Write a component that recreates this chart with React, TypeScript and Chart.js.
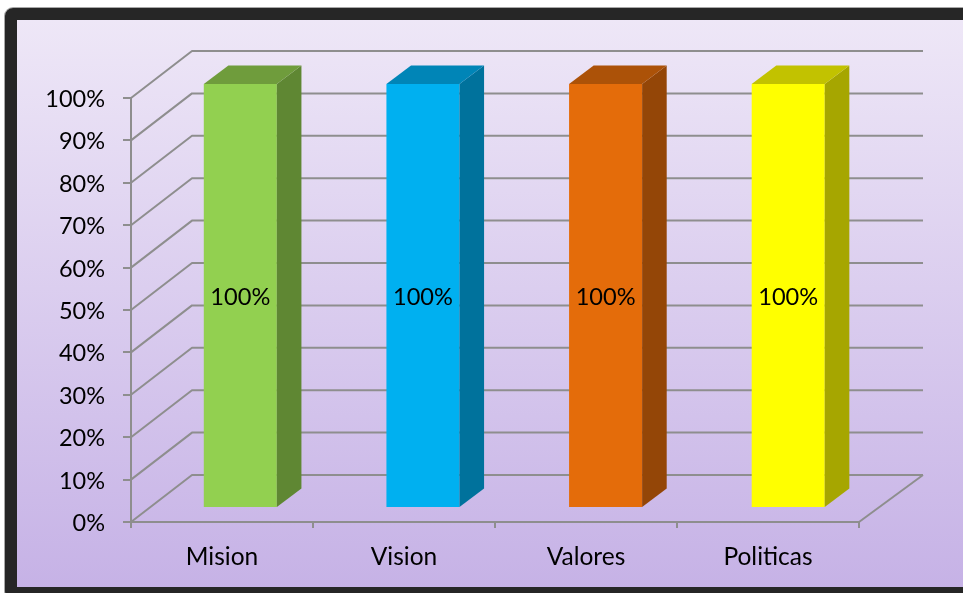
import React, { useEffect, useRef } from "react";
import { Chart, registerables } from "chart.js";

Chart.register(...registerables);

const categories = ["Mision", "Vision", "Valores", "Politicas"];
const values = [100, 100, 100, 100];
const frontColors = ["#92D050", "#00B0F0", "#E46C0A", "#FFFF00"];
const sideColors = ["#5F8733", "#00729C", "#944607", "#A6A600"];
const topColors = ["#6F9C3C", "#0085B7", "#AC5208", "#C2C200"];
const GRID = "#8E8E8E";
const FONT = "Lato";
const BACK_DX = 61;
const BACK_DY = -47;
const BAR_DX = 18;
const BAR_DY = -14;
const SIDE_DX = 24.5;
const SIDE_DY = -18.5;
const BAR_STRETCH = 1.0035;

const threeD = {
  id: "threeD",
  beforeDatasetsDraw(chart: any) {
    const { ctx, scales, chartArea } = chart;
    const y = scales.y;
    ctx.save();
    ctx.strokeStyle = GRID;
    ctx.lineWidth = 2;
    ctx.lineJoin = "round";
    for (const v of y.ticks.map((t: any) => t.value)) {
      const py = y.getPixelForValue(v);
      ctx.beginPath();
      ctx.moveTo(chartArea.left, py);
      ctx.lineTo(chartArea.left + BACK_DX, py + BACK_DY);
      ctx.lineTo(chartArea.right + BACK_DX + 3, py + BACK_DY);
      ctx.stroke();
    }
    const p0 = y.getPixelForValue(0);
    ctx.beginPath();
    ctx.moveTo(chartArea.right, p0);
    ctx.lineTo(chartArea.right + BACK_DX + 3, p0 + BACK_DY);
    ctx.stroke();
    ctx.restore();
    ctx.save();
    ctx.translate(BAR_DX + chartArea.left, BAR_DY);
    ctx.scale(BAR_STRETCH, 1);
    ctx.translate(-chartArea.left, 0);
  },
  afterDatasetsDraw(chart: any) {
    const { ctx } = chart;
    const meta = chart.getDatasetMeta(0);
    meta.data.forEach((bar: any, i: number) => {
      const { x, y, base, width } = bar.getProps(["x", "y", "base", "width"], true);
      const l = x - width / 2;
      const r = x + width / 2;
      ctx.fillStyle = sideColors[i];
      ctx.beginPath();
      ctx.moveTo(r, y);
      ctx.lineTo(r + SIDE_DX, y + SIDE_DY);
      ctx.lineTo(r + SIDE_DX, base + SIDE_DY);
      ctx.lineTo(r, base);
      ctx.closePath();
      ctx.fill();
      ctx.fillStyle = topColors[i];
      ctx.beginPath();
      ctx.moveTo(l, y);
      ctx.lineTo(l + SIDE_DX, y + SIDE_DY);
      ctx.lineTo(r + SIDE_DX, y + SIDE_DY);
      ctx.lineTo(r, y);
      ctx.closePath();
      ctx.fill();
      ctx.fillStyle = "#000";
      ctx.font = `23.5px ${FONT}`;
      ctx.textAlign = "center";
      ctx.textBaseline = "middle";
      ctx.fillText(`${values[i]}%`, x, (y + base) / 2 + 2);
    });
    ctx.restore();
  },
};

export default function App() {
  const ref = useRef<HTMLCanvasElement>(null);
  useEffect(() => {
    const chart = new Chart(ref.current!, {
      type: "bar",
      data: {
        labels: categories,
        datasets: [
          {
            data: values,
            backgroundColor: frontColors,
            barPercentage: 0.4,
            categoryPercentage: 1,
            clip: false,
          } as any,
        ],
      },
      plugins: [threeD],
      options: {
        animation: false,
        responsive: false,
        layout: { padding: { top: 98, right: 104, left: 0, bottom: 0 } },
        plugins: { legend: { display: false }, tooltip: { enabled: false }, title: { display: false } },
        scales: {
          x: {
            afterFit: (s: any) => {
              s.height = 71;
            },
            grid: { drawOnChartArea: false, color: GRID, lineWidth: 2, tickLength: 6 },
            border: { color: GRID, width: 2 },
            ticks: { color: "#000", font: { family: FONT, size: 24.5 }, padding: 14, maxRotation: 0 },
          },
          y: {
            min: 0,
            max: 100,
            afterFit: (s: any) => {
              s.width = 131;
              if (!s.__shifted) {
                s.__shifted = true;
                const original = s.getLabelItems.bind(s);
                s.getLabelItems = (area: any) =>
                  original(area).map((item: any) => ({ ...item, textOffset: item.textOffset + 1.5 }));
              }
            },
            grid: { drawOnChartArea: false, color: GRID, lineWidth: 2, tickLength: 8 },
            border: { color: GRID, width: 2 },
            ticks: {
              stepSize: 10,
              color: "#000",
              font: { family: FONT, size: 23.5 },
              padding: 18,
              callback: (v: any) => `${v}%`,
            },
          },
        },
      } as any,
    });
    return () => chart.destroy();
  }, []);
  return (
    <div style={{ position: "fixed", left: 0, top: 0, width: 963, height: 593, overflow: "hidden", background: "#fff" }}>
      <div
        style={{
          position: "absolute",
          left: 5,
          top: 8,
          width: 990,
          height: 567,
          border: "12px solid #262626",
          borderRadius: 8,
          boxShadow: "0 0 0 1px #a8a8a8",
          background: "linear-gradient(180deg, #EEE7F7 0%, #C6B2E6 100%)",
        }}
      />
      <canvas ref={ref} width={963} height={593} style={{ position: "absolute", left: 0, top: 0, display: "block" }} />
    </div>
  );
}
